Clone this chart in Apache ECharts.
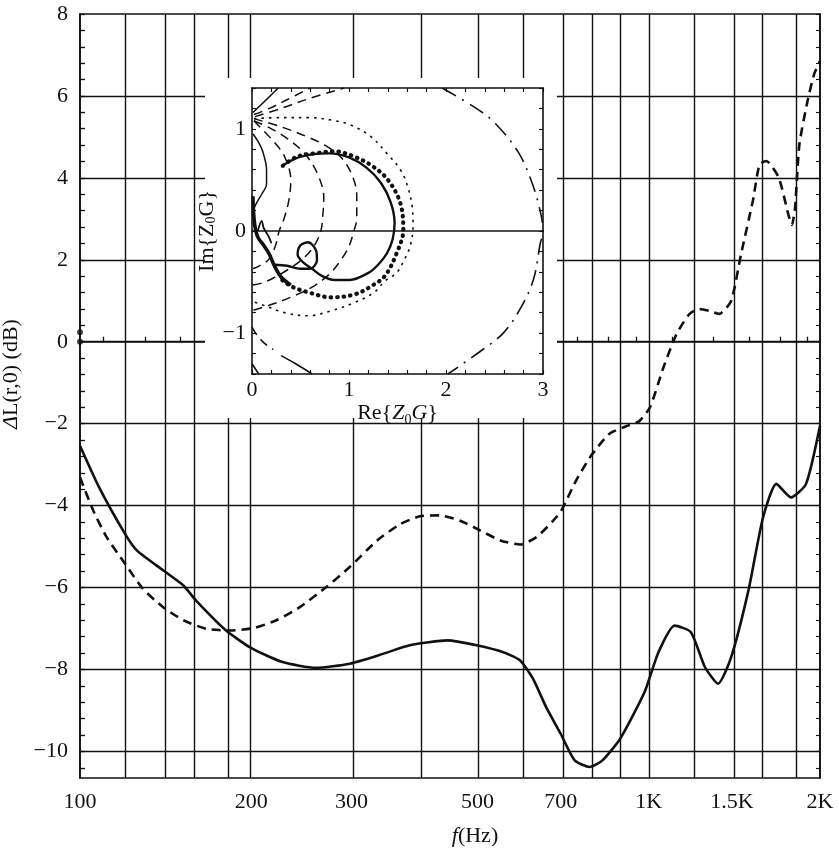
<!DOCTYPE html>
<html><head><meta charset="utf-8">
<script src="https://cdn.jsdelivr.net/npm/echarts@6/dist/echarts.min.js"></script>
<style>html,body{margin:0;padding:0;background:#fff}#c{width:839px;height:850px}</style>
</head><body><div id="c"></div>
<script>
// ---------- main chart data (f in Hz, level in dB) ----------
const freqSolid = [100,108,120,126,140,152,160,180,199,227,260,298,341,380,443,498,555,594,626,660,700,741,787,829,887,935,986,1040,1110,1186,1255,1324,1396,1497,1588,1676,1778,1890,2000];
const dbSolid   = [-2.54,-3.55,-4.69,-5.1,-5.58,-5.95,-6.32,-7.03,-7.46,-7.82,-7.96,-7.86,-7.62,-7.41,-7.29,-7.41,-7.58,-7.78,-8.23,-8.92,-9.57,-10.22,-10.38,-10.22,-9.73,-9.16,-8.51,-7.58,-6.93,-7.09,-7.94,-8.35,-7.7,-6.07,-4.29,-3.47,-3.8,-3.47,-2.05];
const freqDashed = [100,105.5,111.4,120,129,140,152,167,183.5,202,221.5,243.5,271,298,333,366,396,429,466,506,548,594,635,679,702,745,792,852,910,960,1005,1061,1119,1180,1228,1280,1330,1396,1453,1524,1566,1610,1692,1760,1785,1808,1840,1902,1953,2000];
const dbDashed   = [-3.31,-4.12,-4.77,-5.42,-6.03,-6.48,-6.8,-7.01,-7.05,-6.99,-6.8,-6.48,-5.99,-5.5,-4.85,-4.45,-4.26,-4.24,-4.37,-4.61,-4.85,-4.95,-4.77,-4.37,-4.12,-3.39,-2.78,-2.25,-2.07,-1.95,-1.6,-0.63,0.19,0.68,0.8,0.75,0.68,1.0,2.14,3.44,4.33,4.41,4.01,3.1,2.85,3.28,4.82,5.88,6.53,6.85];
const edgeDots = [[100,0.23],[100,0]];

// ---------- main axes ----------
const xLabelFreq = [100,200,300,500,700,1000,1400,2000];
const xLabelText = ['100','200','300','500','700','1K','1.5K','2K'];
const xGridFreq  = [120,140,160,180,200,300,400,500,600,700,800,900,1000,1200,1400,1600,1800];
const xMinorFreq = [110,130,150,170,190,250,350,450,550,650,750,850,950,1100,1300,1500,1700,1900];
const yLabels    = [-10,-8,-6,-4,-2,0,2,4,6,8];
const yGrid      = [-10,-8,-6,-4,-2,0,2,4,6];

// ---------- inset data [Re{Z0G}, Im{Z0G}] ----------
const inHoriz   = [[0,0],[3,0]];
const inDashDot = [[1.96,1.4],[2.28,1.22],[2.49,1.07],[2.74,0.78],[2.88,0.49],[2.97,0.2],[3.0,0],[2.97,-0.13],[2.9,-0.48],[2.76,-0.77],[2.59,-1.0],[2.38,-1.16],[2.02,-1.4]];
const inDotted  = [[0.02,1.1],[0.3,1.11],[0.6,1.11],[0.85,1.08],[1.01,1.04],[1.22,0.93],[1.39,0.76],[1.53,0.6],[1.6,0.45],[1.65,0.25],[1.66,0.05],[1.63,-0.15],[1.56,-0.3],[1.49,-0.41],[1.37,-0.49],[1.26,-0.6],[1.06,-0.7],[0.82,-0.78],[0.58,-0.83],[0.34,-0.8],[0.1,-0.72],[0,-0.69]];
const inHeavy   = [[0.32,0.64],[0.47,0.73],[0.65,0.76],[0.85,0.78],[1.05,0.73],[1.25,0.63],[1.41,0.49],[1.53,0.27],[1.56,0.01],[1.49,-0.22],[1.37,-0.44],[1.23,-0.54],[1.06,-0.62],[0.82,-0.65],[0.58,-0.6],[0.4,-0.54],[0.3,-0.47]];
const inLoop    = [[0.3,0.63],[0.45,0.71],[0.62,0.75],[0.8,0.76],[1.0,0.72],[1.18,0.62],[1.33,0.47],[1.43,0.28],[1.47,0.08],[1.45,-0.08],[1.39,-0.22],[1.3,-0.33],[1.2,-0.41],[1.01,-0.48],[0.85,-0.48],[0.72,-0.44],[0.62,-0.37],[0.53,-0.31],[0.47,-0.23],[0.5,-0.14],[0.58,-0.11],[0.66,-0.19],[0.67,-0.29],[0.6,-0.37],[0.5,-0.37],[0.36,-0.34],[0.23,-0.33]];
const inCore    = [[0.01,0.34],[0.015,0.2],[0.03,0.05],[0.06,-0.06],[0.12,-0.14],[0.18,-0.23],[0.23,-0.34],[0.3,-0.45],[0.4,-0.53]];
const inWiggle  = [[0.06,0.0],[0.1,0.1],[0.12,0.03],[0.17,-0.05],[0.2,-0.12]];
const inBulge   = [[0.01,0.95],[0.06,0.88],[0.11,0.78],[0.15,0.6],[0.15,0.46],[0.1,0.36],[0.05,0.28],[0.01,0.2]];
const inD1 = [[0.02,1.08],[0.12,0.98],[0.23,0.87],[0.34,0.72],[0.4,0.5],[0.38,0.3],[0.33,0.12],[0.28,0],[0.24,-0.15],[0.17,-0.28],[0.08,-0.34],[0.01,-0.37]];
const inD2 = [[0.02,1.08],[0.2,1.0],[0.4,0.88],[0.56,0.74],[0.68,0.55],[0.74,0.33],[0.73,0.15],[0.71,0],[0.65,-0.13],[0.55,-0.25],[0.4,-0.36],[0.22,-0.46],[0.1,-0.51],[0,-0.53]];
const inD3 = [[0.02,1.1],[0.3,1.02],[0.55,0.93],[0.75,0.84],[0.92,0.72],[1.03,0.55],[1.08,0.35],[1.08,0.12],[1.05,0],[1.0,-0.15],[0.92,-0.28],[0.8,-0.42],[0.62,-0.55],[0.42,-0.64],[0.2,-0.72],[0,-0.78]];
const inU1 = [[0.01,1.16],[0.12,1.26],[0.27,1.4]];
const inU2 = [[0.02,1.14],[0.18,1.2],[0.35,1.28],[0.6,1.4]];
const inU3 = [[0.03,1.12],[0.3,1.2],[0.6,1.3],[0.95,1.4]];
const inL1 = [[0,-0.94],[0.06,-1.03],[0.13,-1.1],[0.22,-1.16]];
const inL2 = [[0.3,-1.22],[0.45,-1.3],[0.62,-1.4]];
const inL3 = [[0,-1.3],[0.07,-1.4]];

const FONT = "'Liberation Serif','DejaVu Serif',serif";
const INK = '#111';
const lx = f => Math.log10(f);
const minus = v => (v < 0 ? '\u2212' + Math.abs(v) : String(v));

const yMinor = [];
for (let k = -26; k <= 20; k++) yMinor.push(Math.round(k * 4) / 10);

const subRich = {
  n: {fontFamily: FONT, fontSize: 22, color: INK, lineHeight: 28},
  i: {fontFamily: FONT, fontSize: 22, color: INK, fontStyle: 'italic', lineHeight: 28},
  s: {fontFamily: FONT, fontSize: 14, color: INK, verticalAlign: 'bottom', lineHeight: 14}
};

function insetLine(data, type, width, extra) {
  return Object.assign({
    type: 'line', xAxisIndex: 1, yAxisIndex: 2, data: data, z: 12,
    showSymbol: false, symbol: 'none', smooth: 0.35, silent: true,
    lineStyle: {color: INK, width: width, type: type}
  }, extra || {});
}

const chart = echarts.init(document.getElementById('c'), null, {renderer: 'canvas'});
chart.setOption({
  backgroundColor: '#fff',
  animation: false,
  textStyle: {fontFamily: FONT},
  grid: [
    {left: 80, top: 14, right: 19, bottom: 72, outerBoundsMode: 'none', containLabel: false,
     show: true, borderColor: INK, borderWidth: 1.6, backgroundColor: 'transparent'},
    {left: 252, top: 88, width: 291, height: 286, outerBoundsMode: 'none', containLabel: false}
  ],
  graphic: {elements: [
    {type: 'rect', z: 8, silent: true, shape: {x: 205, y: 78, width: 352, height: 340}, style: {fill: '#fff'}}
  ]},
  xAxis: [
    {type: 'value', gridIndex: 0, min: lx(100), max: lx(2000),
     axisLine: {show: true, lineStyle: {color: INK, width: 1.6}},
     axisTick: {show: true, inside: true, length: 5, customValues: xMinorFreq.map(lx), lineStyle: {color: INK, width: 1.3}},
     axisLabel: {show: true, customValues: xLabelFreq.map(lx), interval: 0, margin: 13, color: INK, fontFamily: FONT, fontSize: 22,
       formatter: v => { const i = xLabelFreq.findIndex(f => Math.abs(lx(f) - v) < 1e-6); return i >= 0 ? xLabelText[i] : ''; }},
     splitLine: {show: false},
     name: '{i|f}{n|(Hz)}', nameLocation: 'middle', nameGap: 44,
     nameTextStyle: {rich: subRich, padding: [0, 0, 0, 50]}},
    {type: 'value', gridIndex: 1, min: 0, max: 3, interval: 0.2, z: 10,
     axisLine: {show: true, onZero: false, lineStyle: {color: INK, width: 1.6}},
     axisTick: {show: true, inside: true, length: 4, lineStyle: {color: INK, width: 1.1}},
     axisLabel: {show: true, interval: 0, margin: 5, color: INK, fontFamily: FONT, fontSize: 22, showMinLabel: true, showMaxLabel: true,
       formatter: v => Math.abs(v - Math.round(v)) < 1e-6 ? minus(Math.round(v)) : ''},
     splitLine: {show: false},
     name: 'Re{{i|Z}{s|0}{i|G}}', nameLocation: 'middle', nameGap: 14,
     nameTextStyle: {fontFamily: FONT, fontSize: 22, color: INK, rich: subRich}},
    {type: 'value', gridIndex: 1, position: 'top', min: 0, max: 3, interval: 0.2, z: 10,
     axisLine: {show: true, onZero: false, lineStyle: {color: INK, width: 1.6}},
     axisTick: {show: true, inside: true, length: 4, lineStyle: {color: INK, width: 1.1}},
     axisLabel: {show: false}, splitLine: {show: false}}
  ],
  yAxis: [
    {type: 'value', gridIndex: 0, min: -10.65, max: 8,
     axisLine: {show: true, lineStyle: {color: INK, width: 1.6}},
     axisTick: {show: true, inside: true, length: 5, customValues: yMinor, lineStyle: {color: INK, width: 1.3}},
     axisLabel: {show: true, customValues: yLabels, interval: 0, margin: 12, color: INK, fontFamily: FONT, fontSize: 22, formatter: v => minus(Math.round(v))},
     splitLine: {show: false},
     name: '{i|\u0394}{n|L(r,0) (dB)}', nameLocation: 'middle', nameGap: 52, nameRotate: 90,
     nameTextStyle: {rich: subRich, padding: [0, 0, 0, 44]}},
    {type: 'value', gridIndex: 0, position: 'right', min: -10.65, max: 8,
     axisLine: {show: true, lineStyle: {color: INK, width: 1.6}},
     axisTick: {show: true, inside: true, length: 4, customValues: yMinor, lineStyle: {color: INK, width: 1.1}},
     axisLabel: {show: false}, splitLine: {show: false}},
    {type: 'value', gridIndex: 1, min: -1.4, max: 1.4, interval: 0.2, z: 10,
     axisLine: {show: true, onZero: false, lineStyle: {color: INK, width: 1.6}},
     axisTick: {show: true, inside: true, length: 4, lineStyle: {color: INK, width: 1.1}},
     axisLabel: {show: true, interval: 0, margin: 6, color: INK, fontFamily: FONT, fontSize: 22, showMinLabel: true, showMaxLabel: true,
       formatter: v => Math.abs(v - Math.round(v)) < 1e-6 ? minus(Math.round(v)) : ''},
     splitLine: {show: false},
     name: 'Im{Z{s|0}G}', nameLocation: 'middle', nameGap: 27, nameRotate: 90,
     nameTextStyle: {fontFamily: FONT, fontSize: 22, color: INK, rich: subRich}},
    {type: 'value', gridIndex: 1, position: 'right', min: -1.4, max: 1.4, interval: 0.2, z: 10,
     axisLine: {show: true, onZero: false, lineStyle: {color: INK, width: 1.6}},
     axisTick: {show: true, inside: true, length: 4, lineStyle: {color: INK, width: 1.1}},
     axisLabel: {show: false}, splitLine: {show: false}}
  ],
  series: [
    {type: 'line', name: 'solid', xAxisIndex: 0, yAxisIndex: 0, z: 2,
     data: freqSolid.map((f, i) => [lx(f), dbSolid[i]]),
     showSymbol: false, symbol: 'none', smooth: 0.2, silent: true,
     lineStyle: {color: INK, width: 2.6, type: 'solid'},
     markLine: {z: 1, symbol: ['none', 'none'], silent: true, animation: false, label: {show: false},
       emphasis: {disabled: true},
       lineStyle: {color: INK, width: 1.4, type: 'solid'},
       data: xGridFreq.map(f => ({xAxis: lx(f)})).concat(yGrid.map(v => ({yAxis: v})))}},
    {type: 'line', name: 'dashed', xAxisIndex: 0, yAxisIndex: 0, z: 2,
     data: freqDashed.map((f, i) => [lx(f), dbDashed[i]]),
     showSymbol: false, symbol: 'none', smooth: 0.2, silent: true,
     lineStyle: {color: INK, width: 2.6, type: [9, 6]}},
    {type: 'scatter', xAxisIndex: 0, yAxisIndex: 0, z: 3, clip: false, silent: true,
     data: edgeDots.map(p => [lx(p[0]), p[1]]), symbolSize: 6, itemStyle: {color: INK}},
    insetLine(inHoriz, 'solid', 1.4, {smooth: false}),
    insetLine(inDashDot, [16, 7, 2, 7], 1.6),
    insetLine(inDotted, [2.5, 5], 1.6),
    insetLine(inHeavy, [0.5, 6], 4.2, {lineStyle: {color: INK, width: 4.2, type: [0.5, 6], cap: 'round'}}),
    insetLine(inLoop, 'solid', 2.4, {smooth: 0.3}),
    insetLine(inCore, 'solid', 3.6),
    insetLine(inWiggle, 'solid', 1.8),
    insetLine(inBulge, 'solid', 1.5),
    insetLine(inD1, [9, 6], 1.5),
    insetLine(inD2, [9, 6], 1.5),
    insetLine(inD3, [9, 6], 1.5),
    insetLine(inU1, 'solid', 1.6),
    insetLine(inU2, [9, 6], 1.5),
    insetLine(inU3, [9, 6], 1.5),
    insetLine(inL1, [9, 6], 1.5),
    insetLine(inL2, 'solid', 1.6),
    insetLine(inL3, [16, 7, 2, 7], 1.6)
  ]
});
</script>
</body></html>
